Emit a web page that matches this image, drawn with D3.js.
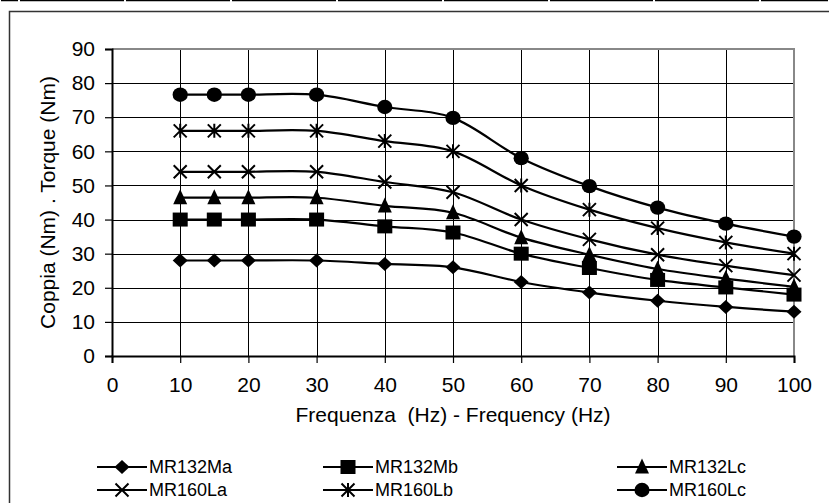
<!DOCTYPE html>
<html><head><meta charset="utf-8">
<script src="https://cdn.jsdelivr.net/npm/d3@7"></script>
<style>body{margin:0;background:#fff}svg{display:block}text{font-family:"Liberation Sans",Arial,sans-serif;fill:#000}</style>
</head><body><svg id="c" width="829" height="503"></svg>
<script>
const freq = [10,15,20,30,40,50,60,70,80,90,100];
const seriesNames = ["MR132Ma","MR132Mb","MR132Lc","MR160La","MR160Lb","MR160Lc"];
const MR132Ma = [28,28,28,28,27,26,21.7,18.6,16.2,14.4,13];
const MR132Mb = [40,40,40,40,38,36.2,30,25.8,22.3,20.1,18];
const MR132Lc = [46.4,46.4,46.4,46.4,44,42,34.7,29.7,25.5,22.7,20.3];
const MR160La = [54,54,54,54,51,48,40,34.2,29.7,26.5,23.7];
const MR160Lb = [66,66,66,66,63,60,50,42.9,37.5,33.3,30];
const MR160Lc = [76.6,76.6,76.6,76.6,73,69.8,58,49.8,43.5,38.8,35];
const xTicks = [0,10,20,30,40,50,60,70,80,90,100];
const yTicks = [0,10,20,30,40,50,60,70,80,90];
const markers = ["diamond","square","triangle","x","asterisk","circle"];
const seriesValues = [MR132Ma,MR132Mb,MR132Lc,MR160La,MR160Lb,MR160Lc];

const svg = d3.select("#c");
const FS = 21, LFS = 18;
// top strip segments
const segX = [0,19,125,231,337,443,549,654,760,829];
for (let i=0;i<segX.length-1;i++){
  svg.append("line").attr("x1",segX[i]+1).attr("x2",segX[i+1]-1).attr("y1",0.5).attr("y2",0.5).attr("stroke","#000").attr("stroke-width",1.5);
}
// outer frame
svg.append("path").attr("d","M9.5,510 L9.5,11.5 L835,11.5").attr("fill","none").attr("stroke","#333").attr("stroke-width",1.5);

const x = d3.scaleLinear().domain([0,100]).range([112,794]);
const y = d3.scaleLinear().domain([0,90]).range([356,49]);

// grid
const g = svg.append("g");
yTicks.forEach(t=>{ if(t>0&&t<90) g.append("line").attr("x1",x(0)).attr("x2",x(100)).attr("y1",Math.round(y(t))+0.5).attr("y2",Math.round(y(t))+0.5).attr("stroke","#000").attr("stroke-width",1); });
xTicks.forEach(t=>{ if(t>0&&t<100) g.append("line").attr("y1",y(0)).attr("y2",y(90)).attr("x1",Math.round(x(t))+0.5).attr("x2",Math.round(x(t))+0.5).attr("stroke","#000").attr("stroke-width",1); });
// plot border top/right gray
g.append("path").attr("d",`M${x(0)},${y(90)} L${x(100)},${y(90)} L${x(100)},${y(0)}`).attr("fill","none").attr("stroke","#888").attr("stroke-width",2);

// axes
const ya = d3.axisLeft(y).tickValues(yTicks).tickSize(7).tickPadding(10);
const xa = d3.axisBottom(x).tickValues(xTicks).tickSize(7).tickPadding(14);
const yg = svg.append("g").attr("transform",`translate(${x(0)},0)`).call(ya);
const xg = svg.append("g").attr("transform",`translate(0,${y(0)})`).call(xa);
[yg,xg].forEach(a=>{
  a.select(".domain").attr("stroke","#000").attr("stroke-width",2);
  a.selectAll(".tick line").attr("stroke","#000").attr("stroke-width",1.2);
  a.selectAll("text").attr("font-size",FS).attr("font-family","Liberation Sans, Arial, sans-serif").attr("fill","#000");
});

// axis titles
svg.append("text").attr("x",453).attr("y",422).attr("text-anchor","middle").attr("font-size",FS).attr("xml:space","preserve").text("Frequenza  (Hz) - Frequency (Hz)");
svg.append("text").attr("transform",`translate(55,${(y(0)+y(90))/2}) rotate(-90)`).attr("text-anchor","middle").attr("font-size",FS).text("Coppia (Nm) . Torque (Nm)");

// marker drawer
function drawMarker(sel, type, cx, cy){
  if(type==="diamond") sel.append("path").attr("d",`M${cx},${cy-7} L${cx+7.5},${cy} L${cx},${cy+7} L${cx-7.5},${cy} Z`).attr("fill","#000");
  else if(type==="square") sel.append("rect").attr("x",cx-7.5).attr("y",cy-7).attr("width",15).attr("height",14).attr("fill","#000");
  else if(type==="triangle") sel.append("path").attr("d",`M${cx},${cy-8.5} L${cx+7},${cy+6.5} L${cx-7},${cy+6.5} Z`).attr("fill","#000");
  else if(type==="circle") sel.append("ellipse").attr("cx",cx).attr("cy",cy).attr("rx",7.6).attr("ry",7.2).attr("fill","#000");
  else if(type==="x") sel.append("path").attr("d",`M${cx-6.5},${cy-6.5} L${cx+6.5},${cy+6.5} M${cx-6.5},${cy+6.5} L${cx+6.5},${cy-6.5}`).attr("stroke","#000").attr("stroke-width",2).attr("fill","none");
  else if(type==="asterisk") sel.append("path").attr("d",`M${cx-6.5},${cy-6.5} L${cx+6.5},${cy+6.5} M${cx-6.5},${cy+6.5} L${cx+6.5},${cy-6.5} M${cx},${cy-7} L${cx},${cy+7}`).attr("stroke","#000").attr("stroke-width",2).attr("fill","none");
}

const line = d3.line().x((d,i)=>x(freq[i])).y(d=>y(d)).curve(d3.curveCardinal.tension(0));
seriesValues.forEach((vals,si)=>{
  const sg = svg.append("g");
  sg.append("path").attr("d",line(vals)).attr("fill","none").attr("stroke","#000").attr("stroke-width",2.2);
  vals.forEach((v,i)=>drawMarker(sg, markers[si], x(freq[i]), y(v)));
});

// legend
const colX = [97,323,617];
const rowY = [467,490];
seriesNames.forEach((n,i)=>{
  const cx0 = colX[i%3], cy0 = rowY[Math.floor(i/3)];
  const lg = svg.append("g");
  lg.append("line").attr("x1",cx0).attr("x2",cx0+50).attr("y1",cy0).attr("y2",cy0).attr("stroke","#000").attr("stroke-width",2.2);
  drawMarker(lg, markers[i], cx0+25, cy0);
  lg.append("text").attr("x",cx0+52).attr("y",cy0).attr("dy","0.35em").attr("font-size",LFS).text(n);
});
</script></body></html>
